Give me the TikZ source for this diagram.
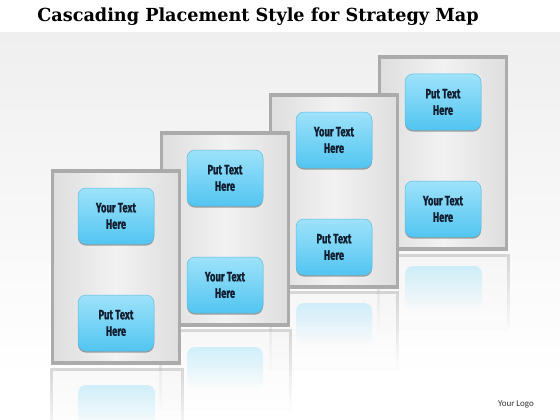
\documentclass[tikz,border=0pt]{standalone}
\usepackage{fontspec}
\setmainfont{DejaVu Serif}
\newfontfamily\boxfont[FakeStretch=0.7,BoldFeatures={FakeBold=0.8}]{Fira Sans}
\newfontfamily\logofont{Carlito}
\newfontfamily\titlefont[FakeStretch=0.98]{DejaVu Serif}
\usetikzlibrary{fadings,shadows}

\definecolor{bgg}{HTML}{EFEFEF}
\definecolor{framec}{HTML}{ABABAB}
\definecolor{panelA}{HTML}{DEDEDE}
\definecolor{panelB}{HTML}{F2F2F2}
\definecolor{boxtop}{HTML}{9EE2FA}
\definecolor{boxbot}{HTML}{52C5F1}
\definecolor{boxedge}{HTML}{5DBCE4}
\definecolor{txt}{HTML}{111E30}

\tikzfading[name=reflfade, top color=transparent!55, bottom color=transparent!100]

\tikzset{
  panelbox/.style={draw=framec, line width=3.8pt, left color=panelA, right color=panelA, middle color=panelB,
    minimum width=127pt, minimum height=192pt, inner sep=0pt,
    drop shadow={shadow xshift=1.2pt, shadow yshift=-1.2pt, opacity=0.35, fill=black!60}},
  textbox/.style={rounded corners=8pt, top color=boxtop, bottom color=boxbot, draw=boxedge, line width=0.5pt,
    minimum width=76pt, minimum height=56pt, align=center, inner sep=0pt,
    font=\boxfont\bfseries\fontsize{13.5}{16.5}\selectfont, text=txt,
    drop shadow={shadow xshift=0pt, shadow yshift=-1.6pt, opacity=0.5, fill=black!70}},
  reflpanel/.style={draw=framec, line width=3pt, fill=panelB, path fading=reflfade},
  reflbox/.style={rounded corners=8pt, fill=boxtop, path fading=reflfade},
}

\begin{document}
\begin{tikzpicture}[x=1pt,y=-1pt]
\useasboundingbox (0,0) rectangle (560,420);
% background
\fill[white] (0,0) rectangle (560,420);
\shade[top color=bgg, bottom color=white] (0,33) rectangle (560,380);

\node[font=\titlefont\bfseries\fontsize{18}{20}\selectfont, text=black] (title) at (258,17) {Cascading Placement Style for Strategy Map};

% panel 4
\fill[reflpanel] (378,256) rectangle (508,330);
\fill[reflbox] (405,266) rectangle (482,310);
\node[panelbox] (p4) at (443,153) {};
\node[textbox] (b4a) at ([yshift=51pt]p4.center) {Put Text\\Here};
\node[textbox] (b4b) at ([yshift=-56pt]p4.center) {Your Text\\Here};

% panel 3
\fill[reflpanel] (270,293) rectangle (397,370);
\fill[reflbox] (296,303) rectangle (372,345);
\node[panelbox] (p3) at (334,191) {};
\node[textbox] (b3a) at ([yshift=51pt]p3.center) {Your Text\\Here};
\node[textbox] (b3b) at ([yshift=-56pt]p3.center) {Put Text\\Here};

% panel 2
\fill[reflpanel] (160,331) rectangle (290,410);
\fill[reflbox] (187,347) rectangle (263,390);
\node[panelbox] (p2) at (225,229) {};
\node[textbox] (b2a) at ([yshift=51pt]p2.center) {Put Text\\Here};
\node[textbox] (b2b) at ([yshift=-56pt]p2.center) {Your Text\\Here};

% panel 1
\fill[reflpanel] (51,370) rectangle (182,440);
\fill[reflbox] (78,385) rectangle (155,430);
\node[panelbox] (p1) at (116,267) {};
\node[textbox] (b1a) at ([yshift=51pt]p1.center) {Your Text\\Here};
\node[textbox] (b1b) at ([yshift=-56pt]p1.center) {Put Text\\Here};

\node[font=\logofont\fontsize{9}{10}\selectfont, text=black!80] (logo) at (516,404) {Your Logo};
\end{tikzpicture}
\end{document}
